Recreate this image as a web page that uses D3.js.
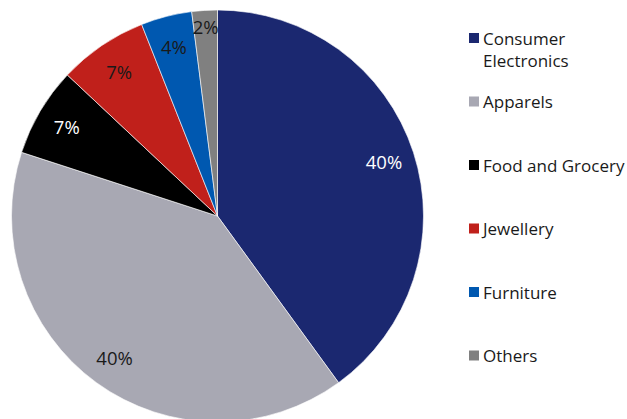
<!DOCTYPE html>
<html>
<head>
<meta charset="utf-8">
<script src="https://cdn.jsdelivr.net/npm/d3@7"></script>
<style>
  html, body { margin: 0; padding: 0; background: #fff; }
  svg { display: block; }
  text { font-family: "Open Sans", "Noto Sans", sans-serif; }
</style>
</head>
<body>
<svg id="chart" width="627" height="419"></svg>
<script>
// Retail category shares (%)
const categories = ["Consumer Electronics", "Apparels", "Food and Grocery", "Jewellery", "Furniture", "Others"];
const shares = [40, 40, 7, 7, 4, 2];
const colors = ["#1b2870", "#a8a8b3", "#000000", "#c0201b", "#0058b0", "#808080"];
const labelColors = ["#ffffff", "#1a1a1a", "#ffffff", "#1a1a1a", "#1a1a1a", "#1a1a1a"];
// Legend entries, wrapped over lines
const legendLines = [["Consumer", "Electronics"], ["Apparels"], ["Food and Grocery"], ["Jewellery"], ["Furniture"], ["Others"]];

const svg = d3.select("#chart");
const cx = 217.5, cy = 216, R = 206;

const pie = d3.pie().sort(null).value(d => d)(shares);
const arc = d3.arc().innerRadius(0).outerRadius(R);

const g = svg.append("g").attr("transform", `translate(${cx},${cy})`);

g.selectAll("path.slice")
  .data(pie)
  .join("path")
  .attr("class", "slice")
  .attr("d", arc)
  .attr("fill", (d, i) => colors[i])
  .attr("stroke", "#ffffff")
  .attr("stroke-width", 0.6);

// Percentage labels: placed inside the slice, moved outward when the slice is too narrow
const labelSize = 18.5;
g.selectAll("text.pct")
  .data(pie)
  .join("text")
  .attr("class", "pct")
  .attr("font-size", labelSize)
  .attr("fill", (d, i) => labelColors[i])
  .attr("text-anchor", "middle")
  .attr("dominant-baseline", "central")
  .text(d => d.value + "%")
  .each(function (d) {
    const w = this.getComputedTextLength();
    let r = 0.85 * R;
    if ((d.endAngle - d.startAngle) * r < w) r = 0.92 * R;
    const a = (d.startAngle + d.endAngle) / 2;
    d3.select(this)
      .attr("x", Math.sin(a) * r)
      .attr("y", -Math.cos(a) * r);
  });

// Legend
const legendX = 469, legendY0 = 38, rowStep = 63.5, lineH = 22;
const legend = svg.append("g");
const rows = legend.selectAll("g.row")
  .data(categories)
  .join("g")
  .attr("class", "row")
  .attr("transform", (d, i) => `translate(${legendX},${legendY0 + i * rowStep})`);

rows.append("rect")
  .attr("x", 0).attr("y", -5)
  .attr("width", 10).attr("height", 10)
  .attr("fill", (d, i) => colors[i]);

rows.append("text")
  .attr("x", 14)
  .attr("font-size", 17)
  .attr("fill", "#1a1a1a")
  .each(function (d, i) {
    d3.select(this).selectAll("tspan")
      .data(legendLines[i])
      .join("tspan")
      .attr("x", 14)
      .attr("y", (t, j) => j * lineH)
      .attr("dominant-baseline", "central")
      .text(t => t);
  });
</script>
</body>
</html>
